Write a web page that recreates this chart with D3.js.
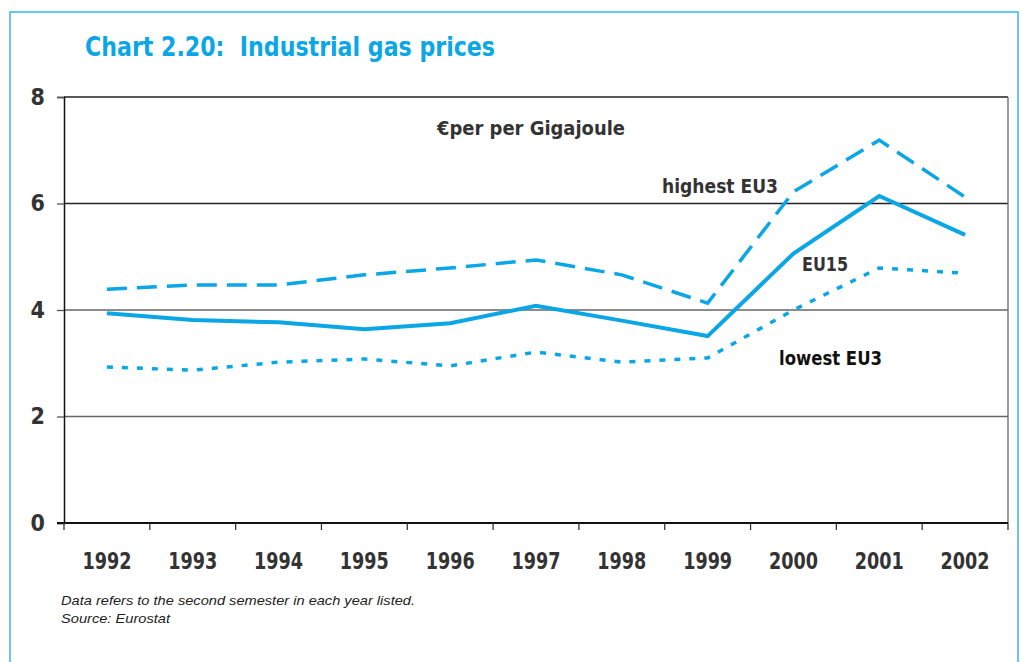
<!DOCTYPE html>
<html>
<head>
<meta charset="utf-8">
<script src="https://cdn.jsdelivr.net/npm/d3@7"></script>
<style>
  body { margin: 0; background: #fff; }
  svg { display: block; }
  .cond { font-family: "DejaVu Sans", sans-serif; font-stretch: condensed; font-weight: 700; }
</style>
</head>
<body>
<div id="graph"></div>
<script>
const years = ["1992", "1993", "1994", "1995", "1996", "1997", "1998", "1999", "2000", "2001", "2002"];
const eu15 = [3.94, 3.81, 3.77, 3.64, 3.75, 4.08, 3.80, 3.51, 5.06, 6.14, 5.41];
const highestEU3 = [4.39, 4.47, 4.47, 4.66, 4.79, 4.94, 4.66, 4.13, 6.22, 7.19, 6.12];
const lowestEU3 = [2.93, 2.87, 3.02, 3.08, 2.95, 3.21, 3.02, 3.10, 4.00, 4.79, 4.69];
const yTicks = [0, 2, 4, 6, 8];

const width = 1021, height = 662;
const margin = {left: 64, top: 97, right: 13, bottom: 139};
const blue = "#0aa6e6";

let svg = d3.select("#graph")
    .append("svg")
    .attr("width", width)
    .attr("height", height);

// outer frame
svg.append("rect")
    .attr("x", 10).attr("y", 12)
    .attr("width", 1008).attr("height", 700)
    .attr("fill", "none")
    .attr("stroke", "#3ab4ee")
    .attr("stroke-width", 1.5);

svg.append("text")
    .attr("class", "cond")
    .attr("x", 85).attr("y", 56)
    .attr("fill", blue)
    .style("font-size", "26px")
    .attr("xml:space", "preserve")
    .attr("textLength", 410)
    .attr("lengthAdjust", "spacingAndGlyphs")
    .text("Chart 2.20:  Industrial gas prices");

let x = d3.scaleBand()
    .domain(years)
    .range([margin.left, width - margin.right]);

let y = d3.scaleLinear()
    .domain([0, 8])
    .range([height - margin.bottom, margin.top]);

// gridlines
svg.append("g")
    .selectAll("line")
    .data(yTicks.filter(d => d > 0))
    .enter()
    .append("line")
    .attr("x1", margin.left)
    .attr("x2", width - margin.right)
    .attr("y1", d => y(d))
    .attr("y2", d => y(d))
    .attr("stroke", d => (d == 6 || d == 8) ? "#222" : "#666")
    .attr("stroke-width", 1.3);

// right border
svg.append("line")
    .attr("x1", width - margin.right).attr("x2", width - margin.right)
    .attr("y1", y(8)).attr("y2", y(0))
    .attr("stroke", "#666").attr("stroke-width", 1.3);

// y axis
let yAxis = svg.append("g")
    .attr("transform", `translate(${margin.left}, 0)`)
    .call(d3.axisLeft(y).tickValues(yTicks).tickSize(7).tickPadding(12));
yAxis.select(".domain").attr("stroke", "#111").attr("stroke-width", 1.5);
yAxis.selectAll(".tick line").attr("stroke", "#555").attr("stroke-width", 1.3);
yAxis.selectAll("text")
    .attr("class", "cond")
    .attr("fill", "#333")
    .style("font-size", "23px");

// x axis, ticks on band edges
let xg = svg.append("g")
    .attr("transform", `translate(0, ${y(0)})`);
xg.append("line")
    .attr("x1", margin.left - 7).attr("x2", width - margin.right)
    .attr("stroke", "#111").attr("stroke-width", 2);
xg.selectAll(".edge")
    .data(years.concat(["end"]))
    .enter()
    .append("line")
    .attr("class", "edge")
    .attr("x1", (d, i) => margin.left + i * x.step())
    .attr("x2", (d, i) => margin.left + i * x.step())
    .attr("y1", 0).attr("y2", 7)
    .attr("stroke", "#333").attr("stroke-width", 1.3);
xg.selectAll(".lbl")
    .data(years)
    .enter()
    .append("text")
    .attr("class", "cond")
    .attr("x", d => x(d) + x.bandwidth() / 2)
    .attr("y", 46)
    .attr("text-anchor", "middle")
    .attr("fill", "#333")
    .style("font-size", "23px")
    .attr("textLength", 49)
    .attr("lengthAdjust", "spacingAndGlyphs")
    .text(d => d);

let line = d3.line()
    .x((d, i) => x(years[i]) + x.bandwidth() / 2)
    .y(d => y(d));

svg.append("path").datum(highestEU3)
    .attr("d", line).attr("fill", "none")
    .attr("stroke", blue).attr("stroke-width", 3.5)
    .attr("stroke-dasharray", "20,10");
svg.append("path").datum(lowestEU3)
    .attr("d", line).attr("fill", "none")
    .attr("stroke", blue).attr("stroke-width", 3.5)
    .attr("stroke-dasharray", "6,9");
svg.append("path").datum(eu15)
    .attr("d", line).attr("fill", "none")
    .attr("stroke", blue).attr("stroke-width", 4)
    .attr("stroke-linejoin", "miter");

// labels
let labels = [
    {t: "€per per Gigajoule", x: 437, y: 135, w: 188, c: "#333"},
    {t: "highest EU3", x: 662, y: 193, w: 116, c: "#333"},
    {t: "EU15", x: 802, y: 271, w: 46, c: "#333"},
    {t: "lowest EU3", x: 779, y: 365, w: 103, c: "#111"}
];
svg.selectAll(".note")
    .data(labels)
    .enter()
    .append("text")
    .attr("class", "cond")
    .attr("x", d => d.x).attr("y", d => d.y)
    .attr("fill", d => d.c)
    .style("font-size", "20px")
    .attr("textLength", d => d.w)
    .attr("lengthAdjust", "spacingAndGlyphs")
    .text(d => d.t);

svg.append("text")
    .attr("x", 61).attr("y", 605)
    .style("font-family", "Liberation Sans, Arial, sans-serif")
    .style("font-style", "italic")
    .style("font-size", "13.5px")
    .attr("fill", "#222")
    .attr("textLength", 354)
    .attr("lengthAdjust", "spacingAndGlyphs")
    .text("Data refers to the second semester in each year listed.");
svg.append("text")
    .attr("x", 61).attr("y", 623)
    .style("font-family", "Liberation Sans, Arial, sans-serif")
    .style("font-style", "italic")
    .style("font-size", "13.5px")
    .attr("fill", "#222")
    .attr("textLength", 109)
    .attr("lengthAdjust", "spacingAndGlyphs")
    .text("Source: Eurostat");
</script>
</body>
</html>
